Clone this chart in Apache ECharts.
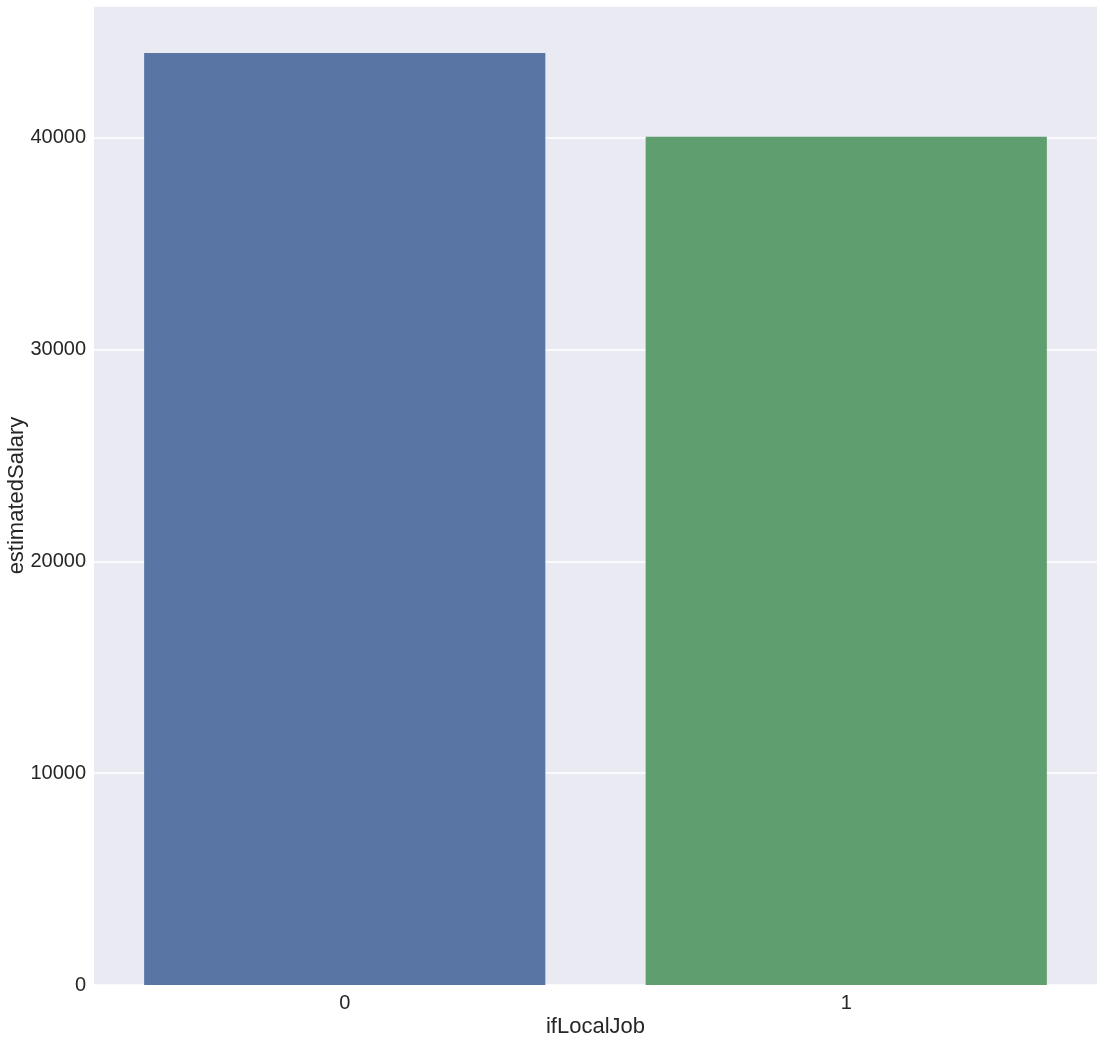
<!DOCTYPE html>
<html>
<head>
<meta charset="utf-8">
<style>html,body{margin:0;padding:0;background:#fff}#c{width:1105px;height:1042px}</style>
<script src="https://cdn.jsdelivr.net/npm/echarts@6/dist/echarts.min.js"></script>
</head>
<body>
<div id="c"></div>
<script>
const categories = ['0', '1'];
const values = [44010, 40050];
const colors = ['#5975a4', '#5f9e6e'];
const yTicks = [0, 10000, 20000, 30000, 40000];

const chart = echarts.init(document.getElementById('c'));
const font = 'Liberation Sans, Arial, sans-serif';
chart.setOption({
  animation: false,
  grid: { left: 94, right: 8, top: 6, bottom: 57, backgroundColor: '#eaeaf2', show: true, borderWidth: 0,
    containLabel: false, outerBoundsMode: 'none' },
  xAxis: {
    type: 'category', data: categories,
    name: 'ifLocalJob', nameLocation: 'middle', nameGap: 31, nameMoveOverlap: false,
    nameTextStyle: { fontSize: 22, color: '#262626', fontFamily: font },
    axisLine: { show: false }, axisTick: { show: false },
    axisLabel: { fontSize: 20, color: '#262626', fontFamily: font, margin: 8 }
  },
  yAxis: {
    type: 'value', min: 0, max: 46230, interval: 10000,
    name: 'estimatedSalary', nameLocation: 'middle', nameGap: 66, nameMoveOverlap: false,
    nameTextStyle: { fontSize: 22, color: '#262626', fontFamily: font },
    axisLine: { show: false }, axisTick: { show: false },
    axisLabel: { fontSize: 20, color: '#262626', fontFamily: font, margin: 8, showMaxLabel: false,
      formatter: v => yTicks.includes(v) ? String(v) : '' },
    splitLine: { lineStyle: { color: '#ffffff', width: 1.5 } }
  },
  series: [{
    type: 'bar', barWidth: '80%',
    data: values.map((v, i) => ({ value: v, itemStyle: { color: colors[i] } }))
  }]
});
</script>
</body>
</html>
